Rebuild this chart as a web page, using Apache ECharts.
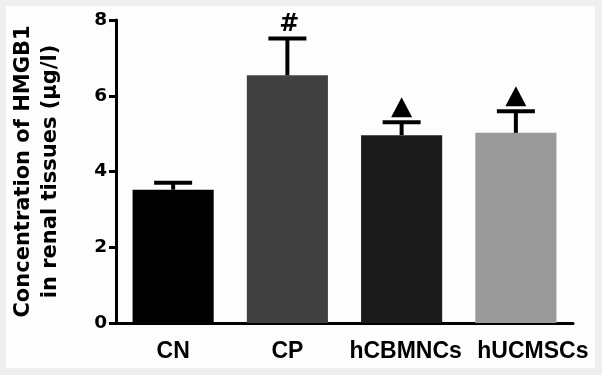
<!DOCTYPE html>
<html>
<head>
<meta charset="utf-8">
<script src="https://cdn.jsdelivr.net/npm/echarts@6/dist/echarts.min.js"></script>
<style>
  html, body { margin: 0; padding: 0; background: #efefef; }
  #chart { position: absolute; left: 6px; top: 6px; width: 589px; height: 362px; background: #fdfdfd; }
</style>
</head>
<body>
<div id="chart"></div>
<script>
  const groups = ['CN', 'CP', 'hCBMNCs', 'hUCMSCs'];
  const means = [3.52, 6.54, 4.96, 5.02];
  const errors = [0.18, 0.97, 0.34, 0.57];
  const marks = ['', '#', '\u25B2', '\u25B2'];
  const barColors = ['#000000', '#404040', '#1b1b1b', '#9a9a9a'];

  const font = '"Liberation Sans", Arial, sans-serif';
  const wideFont = '"DejaVu Sans", sans-serif';

  // the last two labels sit a little right of their ticks in the original
  const labelShift = [0, 0, 8, 34];

  const errData = groups.map((g, i) => [i, means[i], means[i] + errors[i]]);

  // error bar (upper half only) plus the significance mark above the cap
  function renderErr(params, api) {
    const x = api.value(0);
    const top = api.coord([x, api.value(1)]);
    const up = api.coord([x, api.value(2)]);
    const mark = marks[params.dataIndex];
    const style = { stroke: '#000', lineWidth: 4 };
    const children = [
      { type: 'line', shape: { x1: top[0], y1: top[1], x2: up[0], y2: up[1] }, style: style },
      { type: 'line', shape: { x1: up[0] - 19, y1: up[1], x2: up[0] + 19, y2: up[1] }, style: style }
    ];
    if (mark === '#') {
      children.push({
        type: 'text',
        style: { x: up[0] + 2, y: up[1] - 2, text: '#', fill: '#000', align: 'center', verticalAlign: 'bottom',
          font: 'bold 24px ' + wideFont }
      });
    } else if (mark) {
      const b = up[1] - 5;
      children.push({
        type: 'polygon',
        shape: { points: [[up[0] - 10.5, b], [up[0] + 10.5, b], [up[0], b - 20]] },
        style: { fill: '#000' }
      });
    }
    return { type: 'group', children: children };
  }

  const chart = echarts.init(document.getElementById('chart'));
  chart.setOption({
    animation: false,
    grid: { left: 110, right: 22, top: 14, bottom: 45, outerBoundsMode: 'none' },
    xAxis: {
      type: 'category',
      data: groups.map((g, i) => ({ value: g, textStyle: { padding: [0, 0, 0, labelShift[i]] } })),
      axisLine: { lineStyle: { color: '#000', width: 3 } },
      axisTick: { alignWithLabel: true, length: 8, lineStyle: { width: 3, color: '#000' } },
      axisLabel: { interval: 0, color: '#000', fontWeight: 'bold', fontSize: 23, fontFamily: font, margin: 17 }
    },
    yAxis: {
      type: 'value',
      min: 0,
      max: 8,
      interval: 2,
      name: 'Concentration of HMGB1\nin renal tissues (\u03bcg/l)',
      nameLocation: 'middle',
      nameGap: 52,
      nameTextStyle: { color: '#000', fontWeight: 'bold', fontSize: 21, fontFamily: wideFont, lineHeight: 27 },
      splitLine: { show: false },
      axisLine: { show: true, lineStyle: { color: '#000', width: 3 } },
      axisTick: { show: true, length: 7, lineStyle: { width: 3, color: '#000' } },
      axisLabel: { color: '#000', fontWeight: 'bold', fontSize: 18.5, fontFamily: wideFont, margin: 9 }
    },
    series: [
      {
        type: 'bar',
        barCategoryGap: '29%',
        data: means.map((v, i) => ({ value: v, itemStyle: { color: barColors[i] } }))
      },
      {
        type: 'custom',
        renderItem: renderErr,
        data: errData,
        z: 3
      }
    ]
  });
</script>
</body>
</html>
